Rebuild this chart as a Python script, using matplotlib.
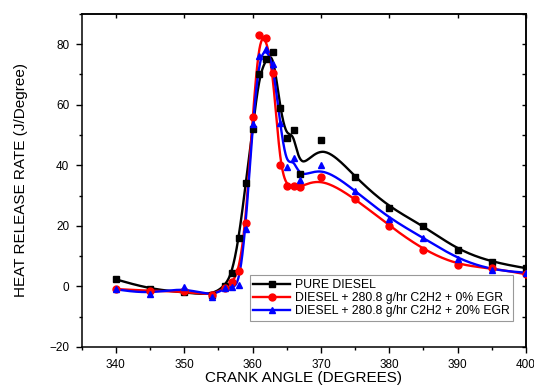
import numpy as np
import matplotlib
matplotlib.use('Agg')
import matplotlib.pyplot as plt
from matplotlib.ticker import MultipleLocator

plt.rcParams['font.family'] = ['Liberation Sans', 'DejaVu Sans']

# crank angle (degrees)
angle = [340, 345, 350, 354, 356, 357, 358, 359, 360, 361, 362, 363, 364,
         365, 366, 367, 370, 375, 380, 385, 390, 395, 400]

# heat release rate (J/degree)
pure_diesel = [2.3, -0.9, -2.0, -3.0, 0.2, 4.5, 16, 34, 52, 70, 75, 77.5, 59,
               49, 51.5, 37, 48.4, 36, 26, 20, 12, 8, 6]
egr_0 = [-0.9, -1.5, -1.7, -3.0, -0.5, 1.3, 5, 21, 56, 83, 82, 70.5, 40,
         33, 33, 32.7, 36, 29, 20, 12, 7, 6, 4]
egr_20 = [-1.0, -2.5, -0.3, -3.4, -0.5, -0.3, 0.5, 19, 53.5, 76, 78.5, 73.5, 54,
          39.5, 42.4, 35.2, 40, 31.6, 22.4, 16, 9, 5.4, 4.5]

labels = ['PURE DIESEL',
          'DIESEL + 280.8 g/hr C2H2 + 0% EGR',
          'DIESEL + 280.8 g/hr C2H2 + 20% EGR']


def bspline(x, y, n=25):
    ''' uniform cubic B-spline through control points (like Origin's B-spline connect) '''
    px = np.r_[x[0], x[0], x, x[-1], x[-1]].astype(float)
    py = np.r_[y[0], y[0], y, y[-1], y[-1]].astype(float)
    t = np.linspace(0, 1, n)
    b0 = (1 - t) ** 3 / 6
    b1 = (3 * t ** 3 - 6 * t ** 2 + 4) / 6
    b2 = (-3 * t ** 3 + 3 * t ** 2 + 3 * t + 1) / 6
    b3 = t ** 3 / 6
    xs, ys = [], []
    for i in range(len(px) - 3):
        xs.append(b0 * px[i] + b1 * px[i + 1] + b2 * px[i + 2] + b3 * px[i + 3])
        ys.append(b0 * py[i] + b1 * py[i + 1] + b2 * py[i + 2] + b3 * py[i + 3])
    return np.concatenate(xs), np.concatenate(ys)


fig = plt.figure(figsize=(5.34, 3.85), dpi=100)
ax = fig.add_axes([0.153, 0.099, 0.832, 0.865])

series = [(pure_diesel, 'black', 's'), (egr_0, 'red', 'o'), (egr_20, 'blue', '^')]
for (vals, col, mk), lab in zip(series, labels):
    sx, sy = bspline(angle, vals)
    ax.plot(sx, sy, color=col, lw=1.7, zorder=2)
    ax.plot(angle, vals, linestyle='none', marker=mk, color=col, ms=5, zorder=3)
    ax.plot([], [], color=col, lw=1.7, marker=mk, ms=5, label=lab)

ax.set_xlim(335, 400)
ax.set_ylim(-20, 90)
ax.xaxis.set_major_locator(MultipleLocator(10))
ax.xaxis.set_minor_locator(MultipleLocator(5))
ax.yaxis.set_major_locator(MultipleLocator(20))
ax.yaxis.set_minor_locator(MultipleLocator(10))
ax.set_yticks([-20, 0, 20, 40, 60, 80])

ax.tick_params(which='both', direction='out', labelsize=8.5, width=1, pad=5)
ax.tick_params(which='major', length=4)
ax.tick_params(which='minor', length=2.5)
for s in ax.spines.values():
    s.set_linewidth(1.1)

# inward ticks on top and right, no labels
top = ax.secondary_xaxis('top')
top.xaxis.set_major_locator(MultipleLocator(10))
top.xaxis.set_minor_locator(MultipleLocator(5))
top.tick_params(which='both', direction='in', labeltop=False, width=1)
top.tick_params(which='major', length=3)
top.tick_params(which='minor', length=0)
right = ax.secondary_yaxis('right')
right.yaxis.set_major_locator(MultipleLocator(10))
right.tick_params(which='both', direction='in', labelright=False, width=1, length=3)
for sa in (top, right):
    for s in sa.spines.values():
        s.set_linewidth(1.1)

ax.set_xlabel('CRANK ANGLE (DEGREES)', fontsize=11, labelpad=0)
ax.set_ylabel('HEAT RELEASE RATE (J/Degree)', fontsize=11, labelpad=15)

leg = ax.legend(loc='lower left', bbox_to_anchor=(0.378, 0.078), fontsize=8.8,
                frameon=True, fancybox=False, edgecolor='#999999',
                handlelength=3, handletextpad=0.4, borderpad=0.3,
                labelspacing=0.1, borderaxespad=0, framealpha=1)
leg.get_frame().set_linewidth(0.8)

plt.savefig('out.png', dpi=100)
